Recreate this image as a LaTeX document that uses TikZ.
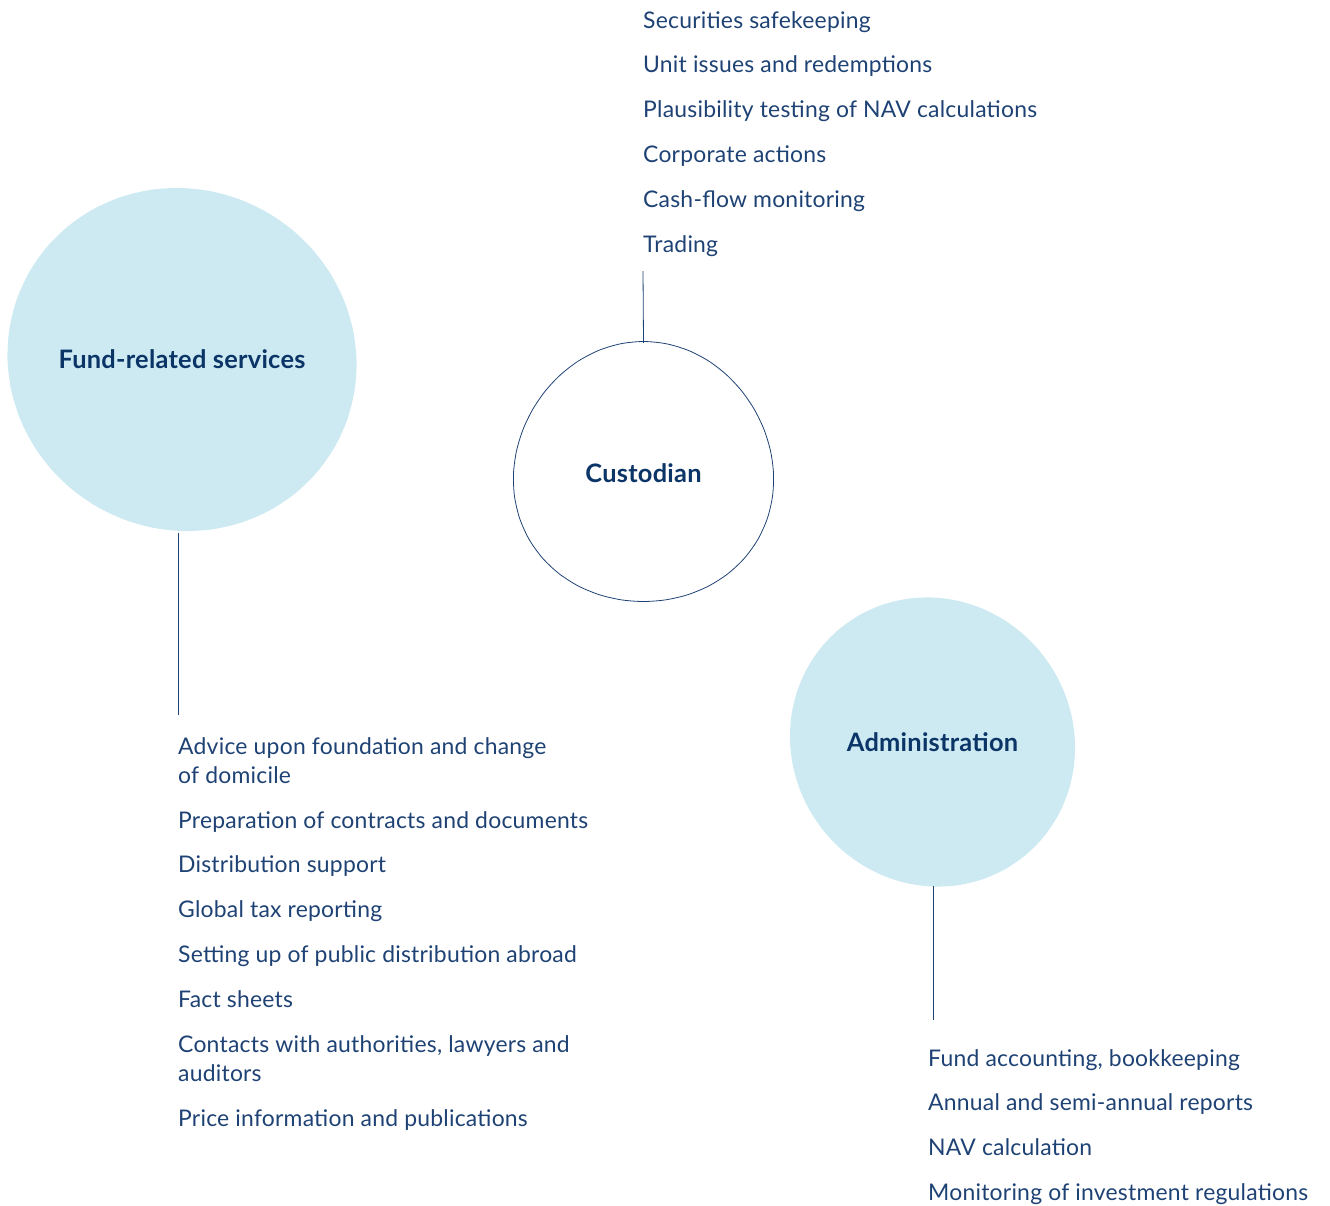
\documentclass[tikz,border=0pt]{standalone}
\usepackage{fontspec}
\setmainfont{Lato}[LetterSpace=1]
\usepackage{tikz}
\usetikzlibrary{
  matrix,
  positioning
}
\definecolor{ink}{HTML}{1E4274}
\definecolor{navy}{HTML}{0B3467}
\definecolor{bubble}{HTML}{CDEAF2}

\begin{document}
\begin{tikzpicture}[
      x=1bp,y=-1bp,
      hub/.style={
         circle,
         inner sep=0pt,
         text=navy,
         font=\bfseries\fontsize{25.5}{30}\selectfont
      },
      item/.style={
         anchor=base west,
         inner sep=0pt,
         align=left,
         text=ink,
         font=\fontsize{23}{29}\selectfont,
         execute at end node=\strut
      },
      blob/.style={fill=bubble,draw=none},
      ring/.style={draw=ink,line width=0.8bp},
      link/.style={draw=ink,line width=0.8bp}
    ]
    \useasboundingbox (0,0) rectangle (1330,1205);
    % bubbles
    \fill[blob] plot[smooth cycle, domain=0:350, samples=36] ({182+(173+3*sin(2*\x+30))*cos(\x)}, {359.5+(173+3*sin(2*\x+30))*sin(\x)});
    \draw[ring] plot[smooth cycle, domain=0:350, samples=36] ({643.5+(130+2*sin(3*\x))*cos(\x)}, {473.5+(130+2*sin(3*\x))*sin(\x)});
    \fill[blob] plot[smooth cycle, domain=0:350, samples=36] ({932.5+(143.5+3*sin(2*\x-20))*cos(\x)}, {742+(143.5+3*sin(2*\x-20))*sin(\x)});
    \node (fund) [hub, minimum size=347bp] at (182,359.5) {Fund-related services};
    \node (cust) [hub, minimum size=261bp] at (643.5,473.5) {Custodian};
    \node (adm) [hub, minimum size=288bp] at (932.5,742) {Administration};
    % lists
    \matrix (custlist) [inner sep=0pt, row sep=16bp, nodes={item}, matrix anchor=c1.base west] at (643,28) {
\node (c1) {Securities safekeeping}; \\
\node (c2) {Unit issues and redemptions}; \\
\node (c3) {Plausibility testing of NAV calculations}; \\
\node (c4) {Corporate actions}; \\
\node (c5) {Cash-flow monitoring}; \\
\node (c6) {Trading}; \\
    };
    \matrix (fundlist) [inner sep=0pt, row sep=16bp, nodes={item}, matrix anchor=f2.base west] at (178,828) {
\node (f1) {\strut Advice upon foundation and change\\of domicile}; \\
\node (f2) {Preparation of contracts and documents}; \\
\node (f3) {Distribution support}; \\
\node (f4) {Global tax reporting}; \\
\node (f5) {Setting up of public distribution abroad}; \\
\node (f6) {Fact sheets}; \\
\node (f7) {\strut Contacts with authorities, lawyers and\\auditors}; \\
\node (f8) {Price information and publications}; \\
    };
    \matrix (admlist) [inner sep=0pt, row sep=16bp, nodes={item}, matrix anchor=a1.base west] at (928,1066) {
\node (a1) {Fund accounting, bookkeeping}; \\
\node (a2) {Annual and semi-annual reports}; \\
\node (a3) {NAV calculation}; \\
\node (a4) {Monitoring of investment regulations}; \\
    };
    % connectors
    \coordinate (custtail) at (643,271);
    \coordinate (fundtail) at (178,715);
    \coordinate (admtail) at (933,1020);
    \draw[link] (cust.north) -- (custtail);
    \draw[link] (fund.south -| fundtail) -- (fundtail);
    \draw[link] (adm.south -| admtail) -- (admtail);
\end{tikzpicture}
\end{document}
